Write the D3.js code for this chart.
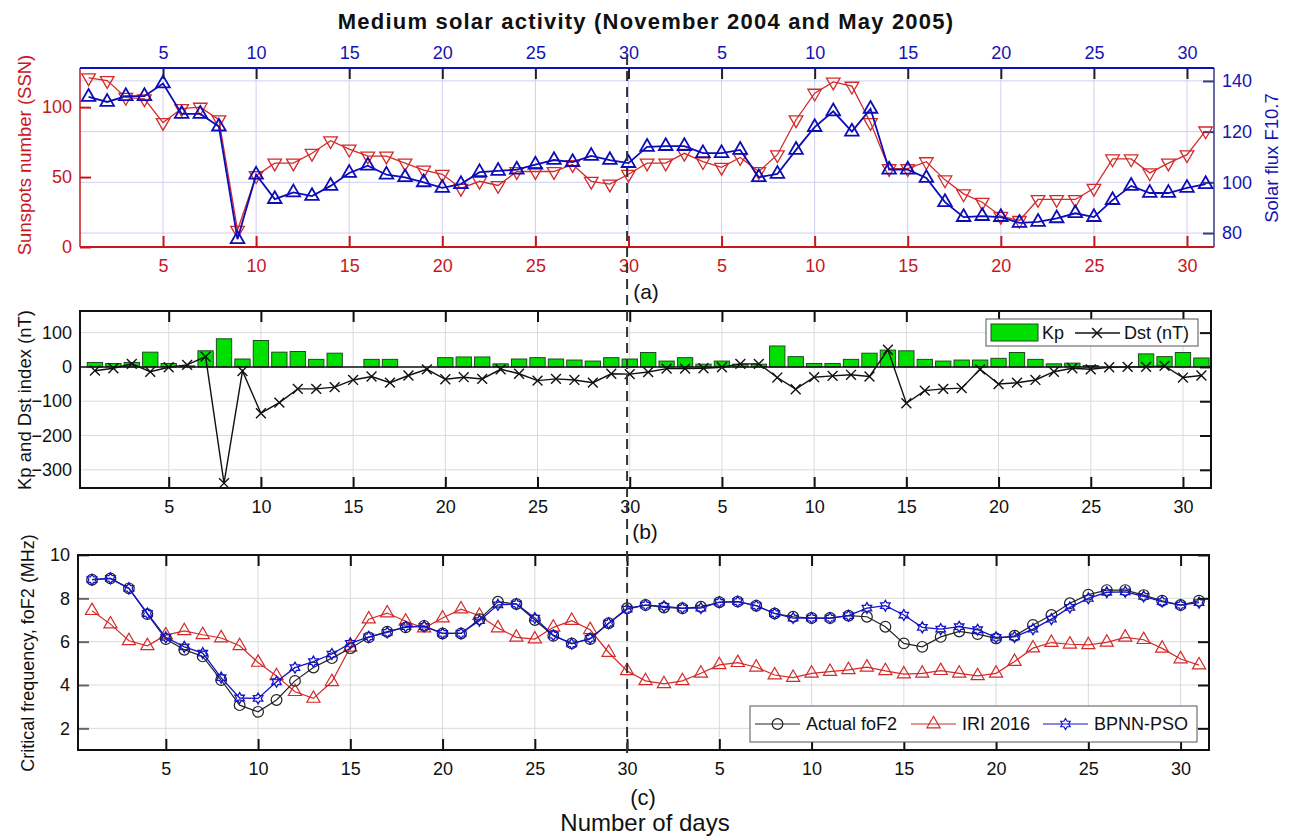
<!DOCTYPE html>
<html>
<head>
<meta charset="utf-8">
<script src="https://cdn.jsdelivr.net/npm/d3@7"></script>
<style>
  body { margin: 0; background: #fff; }
  text { font-family: "Liberation Sans", Arial, Helvetica, sans-serif; }
</style>
</head>
<body>
<svg id="chart" width="1293" height="836"></svg>
<script>
// day index 1..61 : 1-30 = November 2004, 31-61 = May 2005
const days = d3.range(1, 62)
const tickDays = [5, 10, 15, 20, 25, 30, 35, 40, 45, 50, 55, 60]
const tickLabels = ["5", "10", "15", "20", "25", "30", "5", "10", "15", "20", "25", "30"]

const ssnTicks = [0, 50, 100]
const fluxTicks = [80, 100, 120, 140]
const kpDstTicks = [-300, -200, -100, 0, 100]
const foF2Ticks = [2, 4, 6, 8, 10]

// (a) sunspot number and solar flux
const ssn = [121, 119, 107, 106, 89, 99, 100, 91, 12, 51,
  60, 60, 67, 76, 70, 65, 65, 60, 55, 52,
  42, 47, 44, 54, 54, 54, 59, 47, 45, 52,
  60, 60, 67, 61, 57, 64, 54, 66, 91, 110,
  118, 115, 89, 56, 56, 61, 48, 38, 32, 22,
  19, 34, 34, 34, 42, 63, 63, 53, 60, 66, 83]
const f107 = [133.7, 131.7, 134, 134, 139, 127, 127, 122, 77.6, 103,
  93.4, 96, 94.6, 98.6, 103.7, 106.6, 103, 102, 100, 97.8,
  99.3, 104, 104.5, 105, 107, 108.8, 108, 110.4, 108.8, 107.6,
  114, 114.3, 114.3, 111.5, 111.5, 112.8, 102, 103.3, 112.8, 121.8,
  128, 120, 129, 105, 105, 101.7, 92.2, 86.3, 86.7, 86.3,
  84, 84.4, 85.8, 87.8, 86.3, 93, 98.6, 95.8, 95.8, 97.8, 99.3]

// (b) Kp (bars) and Dst
const kp = [13, 10, 13, 43, 10, 3, 47, 82, 23, 77,
  43, 45, 22, 40, 0, 22, 22, 0, 0, 27,
  29, 29, 9, 23, 27, 23, 20, 17, 27, 23,
  42, 17, 27, 8, 17, 8, 8, 61, 30, 10,
  10, 22, 40, 49, 47, 22, 17, 20, 20, 25,
  42, 22, 9, 11, 4, 0, 0, 38, 30, 42, 26]
const dst = [-11, -4, 9, -14, -1, 6, 30, -339, -12, -135,
  -104, -64, -64, -59, -38, -28, -46, -25, -7, -36,
  -30, -35, -7, -20, -40, -35, -38, -46, -20, -21,
  -15, -5, -5, -4, -1, 9, 9, -31, -65, -30,
  -26, -23, -28, 50, -106, -69, -64, -62, -7, -50,
  -46, -38, -14, -4, -7, -1, 0, 0, 3, -31, -25]

// (c) foF2
const actualFoF2 = [8.86, 8.92, 8.46, 7.27, 6.12, 5.63, 5.32, 4.23, 3.07, 2.76,
  3.31, 4.19, 4.81, 5.24, 5.7, 6.2, 6.46, 6.66, 6.73, 6.38,
  6.38, 7.04, 7.84, 7.74, 7.0, 6.27, 5.92, 6.12, 6.85, 7.54,
  7.69, 7.58, 7.54, 7.61, 7.82, 7.85, 7.66, 7.3, 7.15, 7.09,
  7.09, 7.2, 7.15, 6.69, 5.92, 5.76, 6.22, 6.47, 6.35, 6.15,
  6.27, 6.77, 7.23, 7.77, 8.17, 8.38, 8.38, 8.15, 7.89, 7.69, 7.89]
const iriFoF2 = [7.43, 6.81, 6.04, 5.81, 6.3, 6.5, 6.32, 6.17, 5.81, 5.04,
  4.42, 3.69, 3.38, 4.15, 5.74, 7.04, 7.32, 6.94, 6.63, 7.09,
  7.5, 7.2, 6.63, 6.2, 6.12, 6.66, 6.97, 6.55, 5.5, 4.65,
  4.19, 4.05, 4.19, 4.54, 4.93, 5.03, 4.82, 4.46, 4.34, 4.54,
  4.62, 4.7, 4.82, 4.65, 4.5, 4.54, 4.66, 4.54, 4.42, 4.54,
  5.08, 5.7, 5.96, 5.88, 5.85, 5.97, 6.2, 6.09, 5.69, 5.2, 4.92]
const bpnnFoF2 = [8.86, 8.92, 8.46, 7.3, 6.2, 5.76, 5.47, 4.34, 3.4, 3.38,
  4.15, 4.8, 5.08, 5.43, 5.92, 6.22, 6.43, 6.69, 6.7, 6.38,
  6.38, 6.97, 7.7, 7.74, 7.09, 6.3, 5.9, 6.15, 6.85, 7.5,
  7.69, 7.63, 7.55, 7.55, 7.82, 7.85, 7.66, 7.3, 7.09, 7.09,
  7.09, 7.2, 7.55, 7.66, 7.23, 6.66, 6.58, 6.69, 6.55, 6.2,
  6.22, 6.58, 7.04, 7.58, 8.0, 8.28, 8.3, 8.09, 7.85, 7.69, 7.8]

const RED = "#c8161e"
const BLUE = "#1414b4"
const FONT = '"Liberation Sans", Arial, Helvetica, sans-serif'

const svg = d3.select("#chart")

// six-pointed star marker (matlab 'h')
const symbolHexagram = {
  draw(ctx, size) {
    const R = Math.sqrt(size / 2)
    for (let k = 0; k < 12; k++) {
      const a = -Math.PI / 2 + k * Math.PI / 6
      const r = k % 2 ? R / Math.sqrt(3) : R
      if (k === 0) ctx.moveTo(r * Math.cos(a), r * Math.sin(a))
      else ctx.lineTo(r * Math.cos(a), r * Math.sin(a))
    }
    ctx.closePath()
  }
}

function styleAxis(g, color) {
  g.select(".domain").remove()
  g.attr("font-family", FONT).attr("font-size", 18)
  g.selectAll(".tick line").attr("stroke", color).attr("stroke-width", 2)
  g.selectAll(".tick text").attr("fill", color)
}

function drawSeries(g, x, y, values, color, symbolType, symbolSize, rotate, strokeW) {
  const pts = days.map((d, i) => ({ d, v: values[i] }))
  g.append("path")
    .datum(pts)
    .attr("fill", "none")
    .attr("stroke", color)
    .attr("stroke-width", strokeW)
    .attr("d", d3.line().x(p => x(p.d)).y(p => y(p.v)))
  g.append("g")
    .selectAll("path")
    .data(pts)
    .join("path")
    .attr("transform", p => `translate(${x(p.d)},${y(p.v)}) rotate(${rotate})`)
    .attr("d", d3.symbol().type(symbolType).size(symbolSize))
    .attr("fill", "none")
    .attr("stroke", color)
    .attr("stroke-width", strokeW)
}

function grid(g, x, y, yTicks, x0, x1, y0, y1, color) {
  g.append("g").selectAll("line").data(tickDays).join("line")
    .attr("x1", d => x(d)).attr("x2", d => x(d))
    .attr("y1", y0).attr("y2", y1)
    .attr("stroke", color).attr("stroke-width", 1)
  g.append("g").selectAll("line").data(yTicks).join("line")
    .attr("y1", d => y(d)).attr("y2", d => y(d))
    .attr("x1", x0).attr("x2", x1)
    .attr("stroke", color).attr("stroke-width", 1)
}

function yTitle(text, x, y, color, size) {
  svg.append("text")
    .attr("transform", `translate(${x},${y}) rotate(-90)`)
    .attr("text-anchor", "middle")
    .attr("dy", "0.35em")
    .attr("fill", color)
    .style("font-size", size + "px")
    .text(text)
}

const dayFormat = d => tickLabels[tickDays.indexOf(d)]

// ---------- Panel (a) ----------
const A = { left: 80, right: 1214, top: 68, bottom: 247 }
const xA = d3.scaleLinear().domain([0.54, 61.45]).range([A.left, A.right])
const yA = d3.scaleLinear().domain([0, 128]).range([A.bottom, A.top])
const yA2 = d3.scaleLinear().domain([74.5, 145.1]).range([A.bottom, A.top])

const gA = svg.append("g")
grid(gA, xA, yA2, fluxTicks, A.left, A.right, A.top, A.bottom, "#cfcff2")

gA.append("g").attr("transform", `translate(0,${A.bottom})`)
  .call(d3.axisBottom(xA).tickValues(tickDays).tickFormat(dayFormat).tickSizeInner(-11).tickSizeOuter(0).tickPadding(12))
  .call(g => styleAxis(g, RED))
gA.append("g").attr("transform", `translate(0,${A.top})`)
  .call(d3.axisTop(xA).tickValues(tickDays).tickFormat(dayFormat).tickSizeInner(-11).tickSizeOuter(0).tickPadding(9))
  .call(g => styleAxis(g, BLUE))
  .call(g => g.selectAll(".tick line").attr("stroke", "#222"))
gA.append("g").attr("transform", `translate(${A.left},0)`)
  .call(d3.axisLeft(yA).tickValues(ssnTicks).tickSizeInner(-11).tickSizeOuter(0).tickPadding(8))
  .call(g => styleAxis(g, RED))
gA.append("g").attr("transform", `translate(${A.right},0)`)
  .call(d3.axisRight(yA2).tickValues(fluxTicks).tickSizeInner(-11).tickSizeOuter(0).tickPadding(8))
  .call(g => styleAxis(g, BLUE))
  .call(g => g.selectAll(".tick line").attr("stroke", "#3a3a7a"))

// frame
gA.append("line").attr("x1", A.left).attr("x2", A.left).attr("y1", A.top).attr("y2", A.bottom).attr("stroke", RED).attr("stroke-width", 1.5)
gA.append("line").attr("x1", A.right).attr("x2", A.right).attr("y1", A.top).attr("y2", A.bottom).attr("stroke", "#3a3a8a").attr("stroke-width", 1.5)
gA.append("line").attr("x1", A.left).attr("x2", A.right).attr("y1", A.top).attr("y2", A.top).attr("stroke", "#1010c0").attr("stroke-width", 2)
gA.append("line").attr("x1", A.left).attr("x2", A.right).attr("y1", A.bottom).attr("y2", A.bottom).attr("stroke", RED).attr("stroke-width", 2)

drawSeries(gA, xA, yA, ssn, "#d42a2a", d3.symbolTriangle, 80, 180, 1.3)
drawSeries(gA, xA, yA2, f107, "#0c0cb8", d3.symbolTriangle, 80, 0, 1.8)

// ---------- Panel (b) ----------
const B = { left: 80, right: 1211, top: 311, bottom: 488 }
const xB = d3.scaleLinear().domain([0.19, 61.52]).range([B.left, B.right])
const yB = d3.scaleLinear().domain([-353, 163]).range([B.bottom, B.top])
const gB = svg.append("g")
grid(gB, xB, yB, kpDstTicks, B.left, B.right, B.top, B.bottom, "#dadada")

const bw = (xB(2) - xB(1)) * 0.83
gB.append("g").selectAll("rect")
  .data(days.map((d, i) => ({ d, v: kp[i] })))
  .join("rect")
  .attr("x", p => xB(p.d) - bw / 2)
  .attr("width", bw)
  .attr("y", p => yB(p.v))
  .attr("height", p => yB(0) - yB(p.v))
  .attr("fill", "#00e000")
  .attr("stroke", "#1e4a1e")
  .attr("stroke-width", 1)

gB.append("line").attr("x1", B.left).attr("x2", B.right).attr("y1", yB(0)).attr("y2", yB(0)).attr("stroke", "#111").attr("stroke-width", 1.5)

drawSeries(gB, xB, yB, dst, "#111", d3.symbolX, 65, 0, 1.4)

gB.append("g").attr("transform", `translate(0,${B.bottom})`)
  .call(d3.axisBottom(xB).tickValues(tickDays).tickFormat(dayFormat).tickSizeInner(-11).tickSizeOuter(0).tickPadding(12))
  .call(g => styleAxis(g, "#111"))
gB.append("g").attr("transform", `translate(0,${B.top})`)
  .call(d3.axisTop(xB).tickValues(tickDays).tickFormat("").tickSizeInner(-11).tickSizeOuter(0))
  .call(g => styleAxis(g, "#111"))
gB.append("g").attr("transform", `translate(${B.left},0)`)
  .call(d3.axisLeft(yB).tickValues(kpDstTicks).tickSizeInner(0).tickSizeOuter(0).tickPadding(8))
  .call(g => styleAxis(g, "#111"))
gB.append("g").attr("transform", `translate(${B.right},0)`)
  .call(d3.axisRight(yB).tickValues(kpDstTicks).tickFormat("").tickSizeInner(-11).tickSizeOuter(0))
  .call(g => styleAxis(g, "#111"))
gB.append("rect").attr("x", B.left).attr("y", B.top).attr("width", B.right - B.left).attr("height", B.bottom - B.top)
  .attr("fill", "none").attr("stroke", "#111").attr("stroke-width", 2)

// legend (b)
const lgB = gB.append("g").attr("transform", "translate(986,319)")
lgB.append("rect").attr("width", 212).attr("height", 27).attr("fill", "#fff").attr("stroke", "#555").attr("stroke-width", 1)
lgB.append("rect").attr("x", 5).attr("y", 5).attr("width", 47).attr("height", 17).attr("fill", "#00e000").attr("stroke", "#1e4a1e")
lgB.append("text").attr("x", 56).attr("y", 14).attr("dy", "0.35em").style("font-size", "18px").attr("fill", "#111").text("Kp")
lgB.append("line").attr("x1", 89).attr("x2", 134).attr("y1", 14).attr("y2", 14).attr("stroke", "#111").attr("stroke-width", 1.4)
lgB.append("path").attr("transform", "translate(111,14)").attr("d", d3.symbol().type(d3.symbolX).size(65)).attr("fill", "none").attr("stroke", "#111").attr("stroke-width", 1.4)
lgB.append("text").attr("x", 138).attr("y", 14).attr("dy", "0.35em").style("font-size", "18px").attr("fill", "#111").text("Dst (nT)")

// ---------- Panel (c) ----------
const C = { left: 78, right: 1209, top: 555, bottom: 750 }
const xC = d3.scaleLinear().domain([0.24, 61.54]).range([C.left, C.right])
const yC = d3.scaleLinear().domain([1, 10]).range([C.bottom, C.top])
const gC = svg.append("g")
grid(gC, xC, yC, foF2Ticks.slice(0, 4), C.left, C.right, C.top, C.bottom, "#dadada")

drawSeries(gC, xC, yC, iriFoF2, "#d42a2a", d3.symbolTriangle, 75, 0, 1.2)
drawSeries(gC, xC, yC, actualFoF2, "#222", d3.symbolCircle, 90, 0, 1.2)
drawSeries(gC, xC, yC, bpnnFoF2, "#1414c8", symbolHexagram, 60, 0, 1.3)

gC.append("g").attr("transform", `translate(0,${C.bottom})`)
  .call(d3.axisBottom(xC).tickValues(tickDays).tickFormat(dayFormat).tickSizeInner(-11).tickSizeOuter(0).tickPadding(12))
  .call(g => styleAxis(g, "#111"))
gC.append("g").attr("transform", `translate(0,${C.top})`)
  .call(d3.axisTop(xC).tickValues(tickDays).tickFormat("").tickSizeInner(-11).tickSizeOuter(0))
  .call(g => styleAxis(g, "#111"))
gC.append("g").attr("transform", `translate(${C.left},0)`)
  .call(d3.axisLeft(yC).tickValues(foF2Ticks).tickSizeInner(-11).tickSizeOuter(0).tickPadding(8))
  .call(g => styleAxis(g, "#111"))
  .call(g => g.selectAll(".tick line").attr("stroke", "#666"))
gC.append("g").attr("transform", `translate(${C.right},0)`)
  .call(d3.axisRight(yC).tickValues(foF2Ticks).tickFormat("").tickSizeInner(-11).tickSizeOuter(0))
  .call(g => styleAxis(g, "#111"))
gC.append("rect").attr("x", C.left).attr("y", C.top).attr("width", C.right - C.left).attr("height", C.bottom - C.top)
  .attr("fill", "none").attr("stroke", "#111").attr("stroke-width", 2)

// legend (c)
const lgC = gC.append("g").attr("transform", "translate(750,706)")
lgC.append("rect").attr("width", 447).attr("height", 36).attr("fill", "#fff").attr("stroke", "#555").attr("stroke-width", 1)
const legendItems = [
  { label: "Actual foF2", color: "#222", type: d3.symbolCircle, size: 90, x0: 5 },
  { label: "IRI 2016", color: "#d42a2a", type: d3.symbolTriangle, size: 75, x0: 161 },
  { label: "BPNN-PSO", color: "#1414c8", type: symbolHexagram, size: 60, x0: 293 }
]
legendItems.forEach(it => {
  lgC.append("line").attr("x1", it.x0).attr("x2", it.x0 + 45).attr("y1", 18).attr("y2", 18).attr("stroke", it.color).attr("stroke-width", 1.2)
  lgC.append("path").attr("transform", `translate(${it.x0 + 22.5},18)`).attr("d", d3.symbol().type(it.type).size(it.size))
    .attr("fill", "none").attr("stroke", it.color).attr("stroke-width", 1.2)
  lgC.append("text").attr("x", it.x0 + 51).attr("y", 18).attr("dy", "0.35em").style("font-size", "18px").attr("fill", "#111").text(it.label)
})

// ---------- dashed separator between the two months ----------
svg.append("line")
  .attr("x1", xC(30)).attr("x2", xC(30))
  .attr("y1", 55).attr("y2", 757)
  .attr("stroke", "#333").attr("stroke-width", 2).attr("stroke-dasharray", "10,6")

// ---------- titles ----------
svg.append("text").attr("x", 646).attr("y", 29).attr("text-anchor", "middle")
  .style("font-size", "22px").style("font-weight", "bold").style("letter-spacing", "1.2px").attr("fill", "#111")
  .text("Medium solar activity (November 2004 and May 2005)")

svg.append("text").attr("x", 646).attr("y", 292).attr("dy", "0.35em").attr("text-anchor", "middle").style("font-size", "21px").attr("fill", "#111").text("(a)")
svg.append("text").attr("x", 645).attr("y", 532).attr("dy", "0.35em").attr("text-anchor", "middle").style("font-size", "21px").attr("fill", "#111").text("(b)")
svg.append("text").attr("x", 643).attr("y", 797).attr("dy", "0.35em").attr("text-anchor", "middle").style("font-size", "22px").attr("fill", "#111").text("(c)")
svg.append("text").attr("x", 645).attr("y", 823).attr("dy", "0.35em").attr("text-anchor", "middle").style("font-size", "24px").attr("fill", "#111").text("Number of days")

yTitle("Sunspots number (SSN)", 25, 155, RED, 18.5)
yTitle("Solar flux F10.7", 1272, 158, BLUE, 18.5)
yTitle("Kp and Dst index (nT)", 25, 400, "#111", 18.5)
yTitle("Critical frequency, foF2 (MHz)", 28, 653, "#111", 18)
</script>
</body>
</html>
